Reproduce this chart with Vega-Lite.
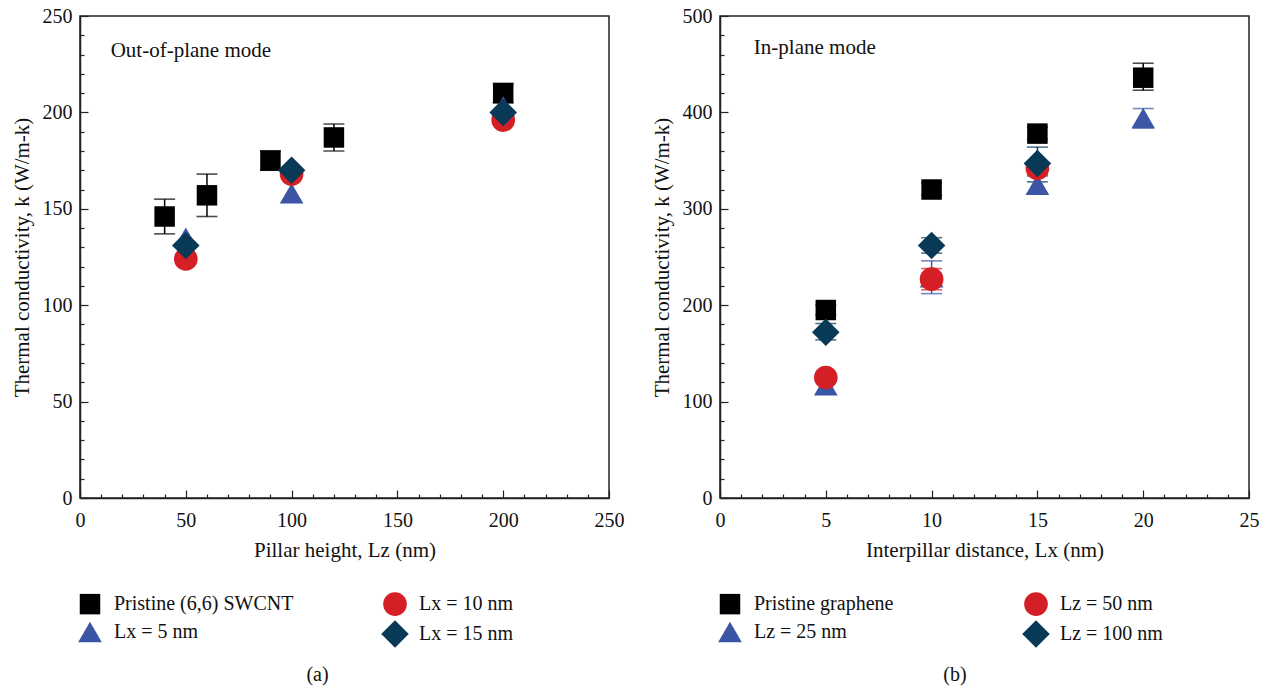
{
  "$schema": "https://vega.github.io/schema/vega-lite/v6.json",
  "padding": {"left": 10, "top": 5, "right": 5, "bottom": 5},
  "background": "white",
  "config": {
    "font": "Liberation Serif",
    "view": {"stroke": "#222", "strokeWidth": 1.5},
    "axis": {"grid": false, "domainColor": "#222", "domainWidth": 1.5, "tickColor": "#222", "tickWidth": 1.2, "labelColor": "#111", "titleColor": "#111", "labelFontSize": 20, "titleFontSize": 21, "titleFontWeight": "normal", "labelFlush": false, "labelOverlap": false, "labelBound": false},
    "legend": {"orient": "none", "legendX": -4, "legendY": 576, "columns": 2, "title": null, "labelFontSize": 20, "labelLimit": 400, "labelColor": "#111", "labelOffset": 10, "rowPadding": 4, "symbolOpacity": 1, "symbolStrokeWidth": 0},
    "title": {"fontSize": 20, "fontWeight": "normal", "color": "#111"}
  },
  "spacing": 25,
  "resolve": {"scale": {"x": "independent", "y": "independent", "color": "independent", "shape": "independent", "size": "independent"}, "legend": {"color": "independent", "shape": "independent", "size": "independent"}},
  "hconcat": [
    {
      "width": 529,
      "height": 482,
      "title": {"text": "(a)", "orient": "bottom", "anchor": "middle", "frame": "bounds", "offset": 17},
      "data": {"values": [
        {"series": "Pristine (6,6) SWCNT", "x": 40, "k": 146, "lo": 137, "hi": 155},
        {"series": "Pristine (6,6) SWCNT", "x": 60, "k": 157, "lo": 146, "hi": 168},
        {"series": "Pristine (6,6) SWCNT", "x": 90, "k": 175, "lo": 170, "hi": 180},
        {"series": "Pristine (6,6) SWCNT", "x": 120, "k": 187, "lo": 180, "hi": 194},
        {"series": "Pristine (6,6) SWCNT", "x": 200, "k": 210, "lo": 205, "hi": 215},
        {"series": "Lx = 5 nm", "x": 50, "k": 135, "lo": null, "hi": null},
        {"series": "Lx = 5 nm", "x": 100, "k": 158, "lo": null, "hi": null},
        {"series": "Lx = 5 nm", "x": 200, "k": 203, "lo": null, "hi": null},
        {"series": "Lx = 10 nm", "x": 50, "k": 124, "lo": null, "hi": null},
        {"series": "Lx = 10 nm", "x": 100, "k": 168, "lo": null, "hi": null},
        {"series": "Lx = 10 nm", "x": 200, "k": 196, "lo": null, "hi": null},
        {"series": "Lx = 15 nm", "x": 50, "k": 131, "lo": null, "hi": null},
        {"series": "Lx = 15 nm", "x": 100, "k": 170, "lo": null, "hi": null},
        {"series": "Lx = 15 nm", "x": 200, "k": 200, "lo": null, "hi": null}
      ]},
      "encoding": {
        "x": {"field": "x", "type": "quantitative", "scale": {"domain": [0, 250], "nice": false},
          "axis": {"title": "Pillar height, Lz (nm)", "values": [0,10,20,30,40,50,60,70,80,90,100,110,120,130,140,150,160,170,180,190,200,210,220,230,240,250],
            "labelExpr": "datum.value % 50 === 0 ? datum.label : ''",
            "tickSize": {"condition": {"test": "datum.value % 50 === 0", "value": -8}, "value": -4},
            "labelPadding": 20, "titlePadding": 5}},
        "y": {"field": "k", "type": "quantitative", "scale": {"domain": [0, 250], "nice": false},
          "axis": {"title": "Thermal conductivity, k (W/m-k)", "values": [0,10,20,30,40,50,60,70,80,90,100,110,120,130,140,150,160,170,180,190,200,210,220,230,240,250],
            "labelExpr": "datum.value % 50 === 0 ? datum.label : ''",
            "tickSize": {"condition": {"test": "datum.value % 50 === 0", "value": -8}, "value": -4},
            "labelPadding": 16, "titlePadding": 10}},
        "color": {"field": "series", "type": "nominal", "scale": {"domain": ["Pristine (6,6) SWCNT", "Lx = 5 nm", "Lx = 10 nm", "Lx = 15 nm"], "range": ["#000000", "#3d55a5", "#d41f27", "#083a58"]}, "legend": {"columnPadding": 87}}
      },
      "layer": [
        {
          "transform": [{"filter": "datum.lo != null"}, {"fold": ["lo", "hi"], "as": ["end", "k"]}],
          "mark": {"type": "line", "strokeWidth": 1.5},
          "encoding": {"detail": {"field": "x", "type": "nominal"}}
        },
        {
          "transform": [{"filter": "datum.lo != null"}, {"fold": ["lo", "hi"], "as": ["end", "k"]}],
          "mark": {"type": "tick", "orient": "horizontal", "size": 21, "thickness": 1.6},
          "encoding": {}
        },
        {
          "mark": {"type": "point", "filled": true, "opacity": 1},
          "encoding": {
            "shape": {"field": "series", "type": "nominal", "scale": {"domain": ["Pristine (6,6) SWCNT", "Lx = 5 nm", "Lx = 10 nm", "Lx = 15 nm"], "range": ["square", "triangle-up", "circle", "diamond"]}, "legend": {"columnPadding": 87}},
            "size": {"field": "series", "type": "nominal", "scale": {"type": "ordinal", "domain": ["Pristine (6,6) SWCNT", "Lx = 5 nm", "Lx = 10 nm", "Lx = 15 nm"], "range": [420, 560, 560, 760]}, "legend": {"columnPadding": 87}}
          }
        },
        {
          "data": {"values": [{"x": 14.5, "k": 232, "label": "Out-of-plane mode"}]},
          "mark": {"type": "text", "align": "left", "baseline": "middle", "fontSize": 21},
          "encoding": {
            "color": {"value": "#111"},
            "text": {"field": "label"}
          }
        }
      ]
    },
    {
      "width": 529,
      "height": 482,
      "title": {"text": "(b)", "orient": "bottom", "anchor": "middle", "frame": "bounds", "offset": 17},
      "data": {"values": [
        {"series": "Pristine graphene", "x": 5, "k": 195, "lo": 190, "hi": 200},
        {"series": "Pristine graphene", "x": 10, "k": 320, "lo": 314, "hi": 327},
        {"series": "Pristine graphene", "x": 15, "k": 378, "lo": 372, "hi": 385},
        {"series": "Pristine graphene", "x": 20, "k": 436, "lo": 423, "hi": 451},
        {"series": "Lz = 25 nm", "x": 5, "k": 117, "lo": null, "hi": null},
        {"series": "Lz = 25 nm", "x": 10, "k": 229, "lo": 212, "hi": 246},
        {"series": "Lz = 25 nm", "x": 15, "k": 325, "lo": 316, "hi": 334},
        {"series": "Lz = 25 nm", "x": 20, "k": 394, "lo": 384, "hi": 404},
        {"series": "Lz = 50 nm", "x": 5, "k": 125, "lo": null, "hi": null},
        {"series": "Lz = 50 nm", "x": 10, "k": 227, "lo": 216, "hi": 238},
        {"series": "Lz = 50 nm", "x": 15, "k": 342, "lo": 335, "hi": 349},
        {"series": "Lz = 100 nm", "x": 5, "k": 172, "lo": 164, "hi": 181},
        {"series": "Lz = 100 nm", "x": 10, "k": 262, "lo": 254, "hi": 270},
        {"series": "Lz = 100 nm", "x": 15, "k": 347, "lo": 328, "hi": 364}
      ]},
      "encoding": {
        "x": {"field": "x", "type": "quantitative", "scale": {"domain": [0, 25], "nice": false},
          "axis": {"title": "Interpillar distance, Lx (nm)", "values": [0,1,2,3,4,5,6,7,8,9,10,11,12,13,14,15,16,17,18,19,20,21,22,23,24,25],
            "labelExpr": "datum.value % 5 === 0 ? datum.label : ''",
            "tickSize": {"condition": {"test": "datum.value % 5 === 0", "value": -8}, "value": -4},
            "labelPadding": 20, "titlePadding": 5}},
        "y": {"field": "k", "type": "quantitative", "scale": {"domain": [0, 500], "nice": false},
          "axis": {"title": "Thermal conductivity, k (W/m-k)", "values": [0,20,40,60,80,100,120,140,160,180,200,220,240,260,280,300,320,340,360,380,400,420,440,460,480,500],
            "labelExpr": "datum.value % 100 === 0 ? datum.label : ''",
            "tickSize": {"condition": {"test": "datum.value % 100 === 0", "value": -8}, "value": -4},
            "labelPadding": 16, "titlePadding": 10}},
        "color": {"field": "series", "type": "nominal", "scale": {"domain": ["Pristine graphene", "Lz = 25 nm", "Lz = 50 nm", "Lz = 100 nm"], "range": ["#000000", "#3d55a5", "#d41f27", "#083a58"]}, "legend": {"columnPadding": 128}}
      },
      "layer": [
        {
          "transform": [{"filter": "datum.lo != null"}, {"fold": ["lo", "hi"], "as": ["end", "k"]}],
          "mark": {"type": "line", "strokeWidth": 1.5},
          "encoding": {"detail": {"field": "x", "type": "nominal"}}
        },
        {
          "transform": [{"filter": "datum.lo != null"}, {"fold": ["lo", "hi"], "as": ["end", "k"]}],
          "mark": {"type": "tick", "orient": "horizontal", "size": 21, "thickness": 1.6},
          "encoding": {}
        },
        {
          "mark": {"type": "point", "filled": true, "opacity": 1},
          "encoding": {
            "shape": {"field": "series", "type": "nominal", "scale": {"domain": ["Pristine graphene", "Lz = 25 nm", "Lz = 50 nm", "Lz = 100 nm"], "range": ["square", "triangle-up", "circle", "diamond"]}, "legend": {"columnPadding": 128}},
            "size": {"field": "series", "type": "nominal", "scale": {"type": "ordinal", "domain": ["Pristine graphene", "Lz = 25 nm", "Lz = 50 nm", "Lz = 100 nm"], "range": [420, 560, 560, 760]}, "legend": {"columnPadding": 128}}
          }
        },
        {
          "data": {"values": [{"x": 1.6, "k": 467, "label": "In-plane mode"}]},
          "mark": {"type": "text", "align": "left", "baseline": "middle", "fontSize": 21},
          "encoding": {
            "color": {"value": "#111"},
            "text": {"field": "label"}
          }
        }
      ]
    }
  ]
}
